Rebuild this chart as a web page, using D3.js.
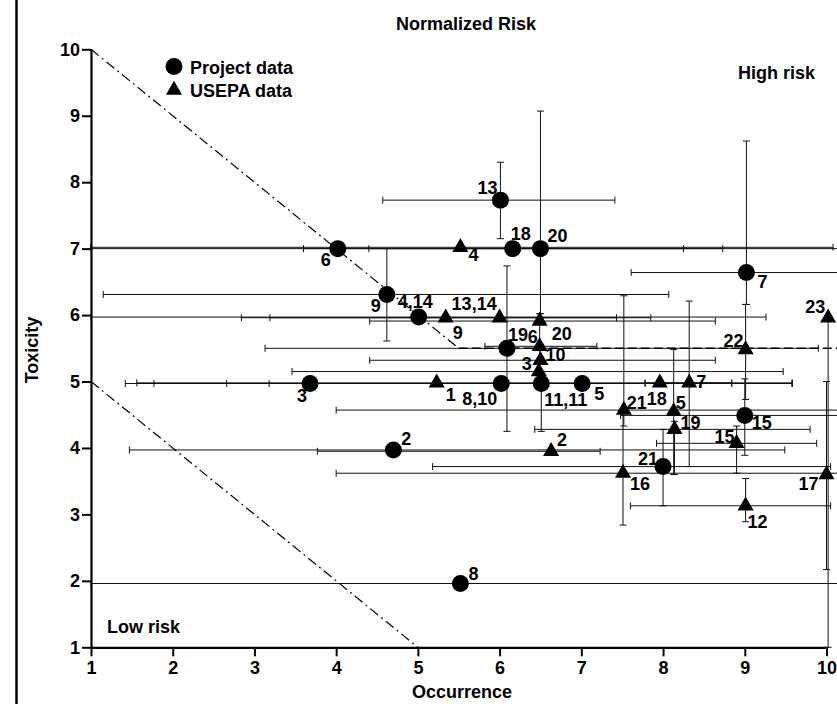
<!DOCTYPE html>
<html>
<head>
<meta charset="utf-8">
<script src="https://cdn.jsdelivr.net/npm/d3@7"></script>
<style>
  body { margin: 0; background: #fff; }
  text { font-family: "Liberation Sans", Arial, sans-serif; font-weight: bold; font-size: 18px; fill: #000; }
</style>
</head>
<body>
<svg id="chart" width="837" height="704"></svg>
<script>
// axis ticks
const xTicks = [1, 2, 3, 4, 5, 6, 7, 8, 9, 10];
const yTicks = [1, 2, 3, 4, 5, 6, 7, 8, 9, 10];

// project data (circles): value, error range, label
const projLabels = ['13', '18', '20', '6', '9', '4,14', '19', '3', '8,10', '11,11', '5', '2', '21', '15', '7', '8'];
const projX   = [6.01, 6.16, 6.50, 4.02, 4.62, 5.01, 6.09, 3.68, 6.02, 6.51, 7.01, 4.70, 8.00, 9.00, 9.02, 5.52];
const projY   = [7.73, 7.00, 7.00, 7.00, 6.31, 5.97, 5.50, 4.97, 4.97, 4.97, 4.97, 3.97, 3.72, 4.49, 6.64, 1.96];
const projXLo = [4.57, 3.60, 4.40, 1.00, 1.15, 1.00, 3.13, 1.42, 2.66, 3.18, 1.77, 1.47, 5.18, 7.48, 7.61, 1.00];
const projXHi = [7.41, 8.73, 10.2, 8.25, 8.07, 9.26, 9.90, 9.58, 8.84, 7.78, 9.58, 9.49, 10.05, 10.2, 10.2, 10.2];
const projYLo = [7.15, null, 6.02, null, 5.61, null, 4.25, null, null, 4.25, null, null, 3.13, 3.89, 6.16, null];
const projYHi = [8.30, null, 9.07, null, 7.00, null, 6.74, null, null, 4.97, null, null, 4.28, 5.04, 8.62, null];
const projLabelDx = [-23, -2, 7, -17, -16, -21, 1, -13, -39, 3, 12, 8, -25, 7, 11, 8];
const projLabelDy = [-6, -9, -7, 17, 18, -9, -7, 18, 21, 22, 16, -5, -2, 14, 15, -4];

// USEPA data (triangles)
const epaLabels = ['4', '9', '13,14', '20', '6', '10', '3', '1', '2', '21', '18', '7', '5', '19', '15', '22', '23', '16', '17', '12'];
const epaX   = [5.52, 5.34, 6.00, 6.49, 6.49, 6.50, 6.48, 5.23, 6.63, 7.52, 7.96, 8.32, 8.13, 8.14, 8.90, 9.01, 10.02, 7.51, 10.00, 9.01];
const epaY   = [7.02, 5.96, 5.96, 5.91, 5.53, 5.32, 5.15, 4.98, 3.95, 4.57, 4.98, 4.98, 4.55, 4.28, 4.07, 5.48, 5.96, 3.62, 3.60, 3.13];
const epaXLo = [1.00, 2.84, 3.19, 4.41, 5.82, 4.41, 3.46, 1.56, 3.77, 4.00, 7.78, null, null, 6.43, 7.92, null, null, 4.00, null, 7.60];
const epaXHi = [10.08, 7.85, 7.43, 8.64, 7.19, 8.64, 9.47, 8.84, 7.23, 10.2, 9.58, null, null, 9.80, 9.88, null, null, 10.2, null, 10.05];
const epaYLo = [null, null, null, 5.30, null, null, null, null, null, 4.33, null, 3.72, 3.60, 3.60, 3.62, 4.73, 1.00, 2.84, 2.17, 2.89];
const epaYHi = [null, null, null, 6.02, null, null, null, null, null, 6.29, null, 6.21, 5.48, 4.40, 4.33, 6.16, 5.96, 4.55, 5.00, 3.54];
const epaLabelDx = [8, 7, -48, 12, -12, 5, -17, 9, 6, 3, -13, 7, 2, 6, -22, -22, -23, 7, -28, 2];
const epaLabelDy = [14, 21, -8, 19, -3, 1, -2, 18, -5, -1, 22, 5, -2, 0, 0, -3, -5, 17, 15, 22];

// risk boundary lines (occurrence, toxicity)
const upperBoundary = [[1, 10], [5.5, 5.5]];
const upperLevel = [[5.5, 5.5], [10.15, 5.5]];
const lowerBoundary = [[1, 5], [5, 1]];

const svg = d3.select('#chart');
const x = d3.scaleLinear().domain([1, 10]).range([91, 826.5]);
const y = d3.scaleLinear().domain([1, 10]).range([647.3, 49.3]);

function rows(labels, xs, ys, xlo, xhi, ylo, yhi, dx, dy) {
  return labels.map((l, i) => ({
    label: l, x: xs[i], y: ys[i],
    xlo: xlo[i], xhi: xhi[i], ylo: ylo[i], yhi: yhi[i],
    dx: dx[i], dy: dy[i]
  }));
}
const proj = rows(projLabels, projX, projY, projXLo, projXHi, projYLo, projYHi, projLabelDx, projLabelDy);
const epa = rows(epaLabels, epaX, epaY, epaXLo, epaXHi, epaYLo, epaYHi, epaLabelDx, epaLabelDy);
const all = proj.concat(epa);

// page border from the scan
svg.append('line').attr('x1', 16.5).attr('x2', 16.5).attr('y1', 0).attr('y2', 704)
  .attr('stroke', '#000').attr('stroke-width', 2.5);

// error bars
const cap = 3.5;
const eb = svg.append('g').attr('stroke', '#111').attr('stroke-width', 1).attr('fill', 'none');
all.filter(d => d.xlo != null).forEach(d => {
  const py = y(d.y);
  eb.append('line').attr('x1', x(d.xlo)).attr('x2', x(d.xhi)).attr('y1', py).attr('y2', py);
  [d.xlo, d.xhi].forEach(v => eb.append('line')
    .attr('x1', x(v)).attr('x2', x(v)).attr('y1', py - cap).attr('y2', py + cap));
});
all.filter(d => d.ylo != null).forEach(d => {
  const px = x(d.x);
  eb.append('line').attr('x1', px).attr('x2', px).attr('y1', y(d.ylo)).attr('y2', y(d.yhi));
  [d.ylo, d.yhi].forEach(v => eb.append('line')
    .attr('x1', px - cap).attr('x2', px + cap).attr('y1', y(v)).attr('y2', y(v)));
});

// boundary lines
const line = d3.line().x(d => x(d[0])).y(d => y(d[1]));
svg.append('path').datum(upperBoundary).attr('d', line)
  .attr('fill', 'none').attr('stroke', '#000').attr('stroke-width', 1.2).attr('stroke-dasharray', '10,4,2,4');
svg.append('path').datum(lowerBoundary).attr('d', line)
  .attr('fill', 'none').attr('stroke', '#000').attr('stroke-width', 1.2).attr('stroke-dasharray', '10,4,2,4');
svg.append('path').datum(upperLevel).attr('d', line)
  .attr('fill', 'none').attr('stroke', '#000').attr('stroke-width', 1.6).attr('stroke-dasharray', '9,4');

// axes
const yAxis = svg.append('g').attr('transform', 'translate(91,0)')
  .call(d3.axisLeft(y).tickValues(yTicks).tickFormat(d3.format('d')).tickSize(9).tickSizeOuter(0).tickPadding(2));
const xAxis = svg.append('g').attr('transform', 'translate(0,647.3)')
  .call(d3.axisBottom(x).tickValues(xTicks).tickFormat(d3.format('d')).tickSize(9).tickSizeOuter(0).tickPadding(5));
[xAxis, yAxis].forEach(a => {
  a.select('.domain').attr('stroke', '#000').attr('stroke-width', 2.2);
  a.selectAll('.tick line').attr('stroke', '#000').attr('stroke-width', 2);
  a.selectAll('.tick text').attr('font-size', 18).attr('font-family', '"Liberation Sans", Arial, sans-serif').attr('font-weight', 'bold');
});

// markers
svg.append('g').selectAll('circle').data(proj).join('circle')
  .attr('cx', d => x(d.x)).attr('cy', d => y(d.y)).attr('r', 8.5).attr('fill', '#000');
const tri = d3.symbol().type(d3.symbolTriangle).size(112);
svg.append('g').selectAll('path').data(epa).join('path')
  .attr('d', tri).attr('transform', d => `translate(${x(d.x)},${y(d.y)})`).attr('fill', '#000');

// point labels
svg.append('g').selectAll('text').data(all).join('text')
  .attr('x', d => x(d.x) + d.dx).attr('y', d => y(d.y) + d.dy).text(d => d.label);

// legend
svg.append('circle').attr('cx', 174).attr('cy', 66.5).attr('r', 8.5).attr('fill', '#000');
svg.append('text').attr('x', 190).attr('y', 74).text('Project data');
svg.append('path').attr('d', tri).attr('transform', 'translate(174,90)').attr('fill', '#000');
svg.append('text').attr('x', 190).attr('y', 97).text('USEPA data');

// titles and annotations
svg.append('text').attr('x', 466).attr('y', 30).attr('text-anchor', 'middle').text('Normalized Risk');
svg.append('text').attr('x', 738).attr('y', 79).text('High risk');
svg.append('text').attr('x', 107).attr('y', 633).text('Low risk');
svg.append('text').attr('x', 462).attr('y', 698).attr('text-anchor', 'middle').text('Occurrence');
svg.append('text').attr('transform', 'translate(38,350) rotate(-90)').attr('text-anchor', 'middle').text('Toxicity');
</script>
</body>
</html>
